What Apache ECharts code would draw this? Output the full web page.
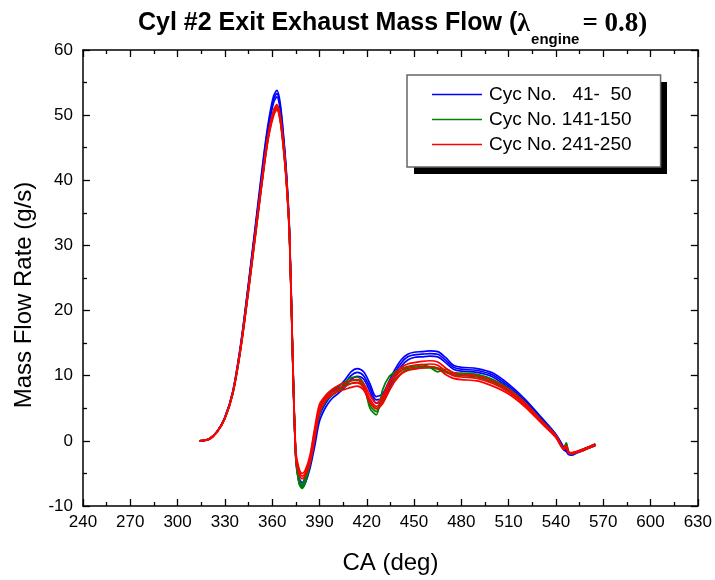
<!DOCTYPE html>
<html>
<head>
<meta charset="utf-8">
<script src="https://cdn.jsdelivr.net/npm/echarts@6/dist/echarts.min.js"></script>
<style>html,body{margin:0;padding:0;background:#fff;}#c{width:715px;height:580px;}</style>
</head>
<body>
<div id="c"></div>
<script>
var CA = [314,320,325,330,335,340,345,350,355,358, 361,363,365,367,369,371,373,375,377,379, 381,384,387,390,394,398,402,406,410,414, 418,422,426,430,434,438,442,446,450,455, 460,465,470,475,480,490,500,510,520,530, 540,545,546.5,548,550,553,557,561,565];

var blueA = [0,0.3,1.4,3.6,7.5,14.6,24.0,34.0,44.0,49.0, 52.5,53.3,51.5,47.0,41.0,32.0,13.0,-2.5,-6.0,-6.8, -6.0,-3.5,0.0,3.8,5.8,7.0,7.8,8.8,10.0,10.5, 10.0,8.2,6.3,6.6,8.5,10.5,12.0,12.9,13.2,13.3, 13.4,13.3,12.4,11.3,11.0,10.8,10.1,8.4,6.2,3.6, 0.9,-1.2,-1.4,-2.0,-2.1,-1.8,-1.4,-1.0,-0.6];
var blueB = [0,0.3,1.4,3.6,7.6,14.8,24.3,34.4,44.5,49.5, 53.0,53.8,52.0,47.4,41.3,32.3,13.4,-2.2,-5.6,-6.4, -5.5,-2.8,0.8,4.5,6.4,7.6,8.3,9.3,10.6,11.1, 10.6,8.8,6.8,7.2,9.1,11.0,12.5,13.3,13.6,13.7, 13.8,13.7,12.8,11.6,11.3,11.1,10.4,8.7,6.5,3.8, 1.0,-1.0,-1.5,-1.9,-2.0,-1.7,-1.3,-0.9,-0.5];
var blueC = [0,0.3,1.4,3.5,7.4,14.4,23.7,33.6,43.5,48.5, 52.0,52.8,51.0,46.5,40.6,31.6,12.6,-2.8,-6.4,-7.2, -6.5,-4.2,-0.8,3.0,5.2,6.5,7.3,8.2,9.4,9.9, 9.5,7.6,5.8,6.0,7.9,9.9,11.5,12.4,12.8,12.9, 13.0,12.9,12.0,11.0,10.7,10.5,9.8,8.1,5.9,3.4, 0.7,-1.4,-1.6,-2.1,-2.2,-1.9,-1.5,-1.1,-0.7];

var greenA = [0,0.3,1.4,3.5,7.3,14.2,23.3,33.0,42.6,47.4, 50.4,51.2,49.6,45.6,40.0,31.5,13.0,-2.4,-6.2,-7.0, -6.0,-3.0,1.0,4.6,6.5,7.4,8.0,8.6,9.2,9.3, 8.4,5.5,4.5,6.5,9.0,10.2,10.8,11.1,11.3,11.4, 11.4,11.2,10.7,10.3,10.2,10.0,9.2,7.8,5.8,3.2, 0.7,-1.1,-0.3,-1.6,-1.9,-1.7,-1.4,-1.0,-0.6];
var greenB = [0,0.3,1.4,3.5,7.4,14.3,23.4,33.2,42.8,47.6, 50.7,51.5,49.9,45.9,40.2,31.7,13.2,-2.2,-5.9,-6.7, -5.6,-2.5,1.6,5.1,6.9,7.8,8.4,9.0,9.7,9.8, 8.8,5.0,4.0,7.8,9.8,10.6,11.1,11.4,11.6,11.7, 11.3,10.6,11.0,10.5,10.4,10.2,9.4,8.0,6.0,3.4, 0.8,-1.2,-0.4,-1.7,-1.9,-1.7,-1.3,-0.9,-0.5];
var greenC = [0,0.3,1.4,3.5,7.2,14.1,23.1,32.8,42.4,47.2, 50.2,51.0,49.4,45.4,39.8,31.3,12.8,-2.6,-6.5,-7.3, -6.4,-3.6,0.4,4.1,6.1,7.0,7.7,8.3,8.8,9.0, 8.1,6.0,5.0,5.8,7.6,9.4,10.4,10.9,11.1,11.2, 11.2,11.0,10.5,10.1,10.0,9.8,9.0,7.6,5.6,3.0, 0.6,-1.3,-0.8,-1.8,-2.0,-1.8,-1.5,-1.1,-0.7];

var redA = [0,0.3,1.4,3.5,7.3,14.2,23.3,33.0,42.6,47.4, 50.4,51.2,49.6,45.6,40.0,31.5,13.0,-2.0,-4.6,-5.4, -4.9,-2.8,1.2,5.0,6.7,7.5,8.0,8.4,8.8,8.9, 8.3,6.4,5.3,6.2,8.3,9.8,10.8,11.3,11.5,11.7, 11.8,11.6,10.7,10.0,9.8,9.6,8.8,7.5,5.6,3.1, 0.6,-1.2,-0.9,-1.8,-1.9,-1.7,-1.4,-1.0,-0.6];
var redB = [0,0.3,1.4,3.5,7.4,14.4,23.5,33.3,42.9,47.8, 50.8,51.6,50.0,46.0,40.3,31.8,13.5,-1.6,-4.2,-5.0, -4.5,-2.2,2.0,5.6,7.0,7.9,8.5,8.9,9.3,9.4, 8.8,7.0,5.8,6.8,8.9,10.3,11.3,11.8,12.0,12.2, 12.3,12.1,11.2,10.4,10.2,10.0,9.2,7.9,5.9,3.3, 0.8,-1.1,-0.7,-1.7,-1.8,-1.6,-1.3,-0.9,-0.5];
var redC = [0,0.2,1.3,3.4,7.2,14.0,23.0,32.7,42.2,47.0, 50.0,50.8,49.2,45.2,39.6,31.0,12.4,-2.5,-5.0,-5.8, -5.3,-3.4,0.4,4.4,6.3,7.1,7.6,7.9,8.2,8.4, 7.8,5.9,4.9,5.7,7.6,9.2,10.3,10.8,11.0,11.2, 11.3,11.1,10.2,9.6,9.4,9.2,8.4,7.2,5.3,2.9, 0.5,-1.3,-1.0,-1.9,-2.0,-1.8,-1.5,-1.1,-0.7];

var groupNames = ['Cyc No.   41-  50', 'Cyc No. 141-150', 'Cyc No. 241-250'];
var groupColors = ['#0000FF', '#008000', '#FF0000'];
var groupCycles = [[blueA, blueB, blueC], [greenA, greenB, greenC], [redA, redB, redC]];
var xTicks = {min: 240, max: 630, interval: 30};
var yTicks = {min: -10, max: 60, interval: 10};

var FONT = '"Liberation Sans", Arial, sans-serif';
var SERIF = '"Liberation Serif", "Times New Roman", serif';

function pairs(ys) { return CA.map(function (x, i) { return [x, ys[i]]; }); }

var series = [];
groupCycles.forEach(function (cycles, g) {
  cycles.forEach(function (ys) {
    series.push({
      type: 'line', name: groupNames[g], data: pairs(ys),
      xAxisIndex: 0, yAxisIndex: 0,
      showSymbol: false, symbol: 'none', smooth: 0.3,
      lineStyle: {color: groupColors[g], width: 1.7},
      itemStyle: {color: groupColors[g]},
      animation: false, silent: true
    });
  });
});

var axisLine = {show: true, onZero: false, lineStyle: {color: '#000', width: 1.5}};
var tick = {show: true, inside: true, length: 7, lineStyle: {color: '#000', width: 1.3}};
var minor = {show: true, splitNumber: 2, length: 4, lineStyle: {color: '#000', width: 1.3}};

var option = {
  animation: false,
  backgroundColor: '#fff',
  title: {
    left: 133, top: 6,
    text: '{b|Cyl #2 Exit Exhaust Mass Flow (}{l|λ}{s|engine}{t|= 0.8)}',
    textStyle: {
      rich: {
        b: {fontFamily: FONT, fontWeight: 'bold', fontSize: 25, color: '#000', lineHeight: 30, verticalAlign: 'top'},
        l: {fontFamily: SERIF, fontWeight: 'bold', fontSize: 26, color: '#000', lineHeight: 30, verticalAlign: 'top'},
        s: {fontFamily: FONT, fontWeight: 'bold', fontSize: 15, color: '#000', lineHeight: 16, padding: [21, 3, 0, 1], verticalAlign: 'top'},
        t: {fontFamily: SERIF, fontWeight: 'bold', fontSize: 27, color: '#000', lineHeight: 30, verticalAlign: 'top'}
      }
    }
  },
  graphic: [{
    type: 'rect', z: 1, silent: true,
    shape: {x: 414, y: 82, width: 253, height: 92},
    style: {fill: '#000'}
  }],
  legend: {
    left: 407, top: 75, orient: 'vertical', z: 10,
    data: groupNames,
    icon: 'rect', itemWidth: 50, itemHeight: 1.5, itemGap: 6,
    padding: [10, 29, 13, 25],
    backgroundColor: '#fff', borderColor: '#666', borderWidth: 1.5, borderRadius: 0,
    selectedMode: false,
    textStyle: {fontFamily: FONT, fontSize: 19, color: '#000', padding: [0, 0, 0, 2]}
  },
  grid: {left: 83, right: 17, top: 50, bottom: 73, containLabel: false},
  xAxis: [{
    type: 'value', position: 'bottom', min: xTicks.min, max: xTicks.max, interval: xTicks.interval,
    name: 'CA (deg)', nameLocation: 'middle', nameGap: 45,
    nameTextStyle: {fontFamily: FONT, fontSize: 24, color: '#000'},
    axisLine: axisLine, axisTick: tick, minorTick: minor,
    axisLabel: {fontFamily: FONT, fontSize: 17, color: '#000', margin: 8},
    splitLine: {show: false}
  }, {
    type: 'value', position: 'top', min: xTicks.min, max: xTicks.max, interval: xTicks.interval,
    axisLine: axisLine, axisTick: tick, minorTick: minor,
    axisLabel: {show: false}, splitLine: {show: false}
  }],
  yAxis: [{
    type: 'value', position: 'left', min: yTicks.min, max: yTicks.max, interval: yTicks.interval,
    name: 'Mass Flow Rate (g/s)', nameLocation: 'middle', nameGap: 47, nameRotate: 90,
    nameTextStyle: {fontFamily: FONT, fontSize: 24, color: '#000', padding: [0, 34, 0, 0]},
    axisLine: axisLine, axisTick: tick, minorTick: minor,
    axisLabel: {fontFamily: FONT, fontSize: 17, color: '#000', margin: 10},
    splitLine: {show: false}
  }, {
    type: 'value', position: 'right', min: yTicks.min, max: yTicks.max, interval: yTicks.interval,
    axisLine: axisLine, axisTick: tick, minorTick: minor,
    axisLabel: {show: false}, splitLine: {show: false}
  }],
  series: series
};

var chart = echarts.init(document.getElementById('c'), null, {renderer: 'canvas'});
chart.setOption(option);
</script>
</body>
</html>
